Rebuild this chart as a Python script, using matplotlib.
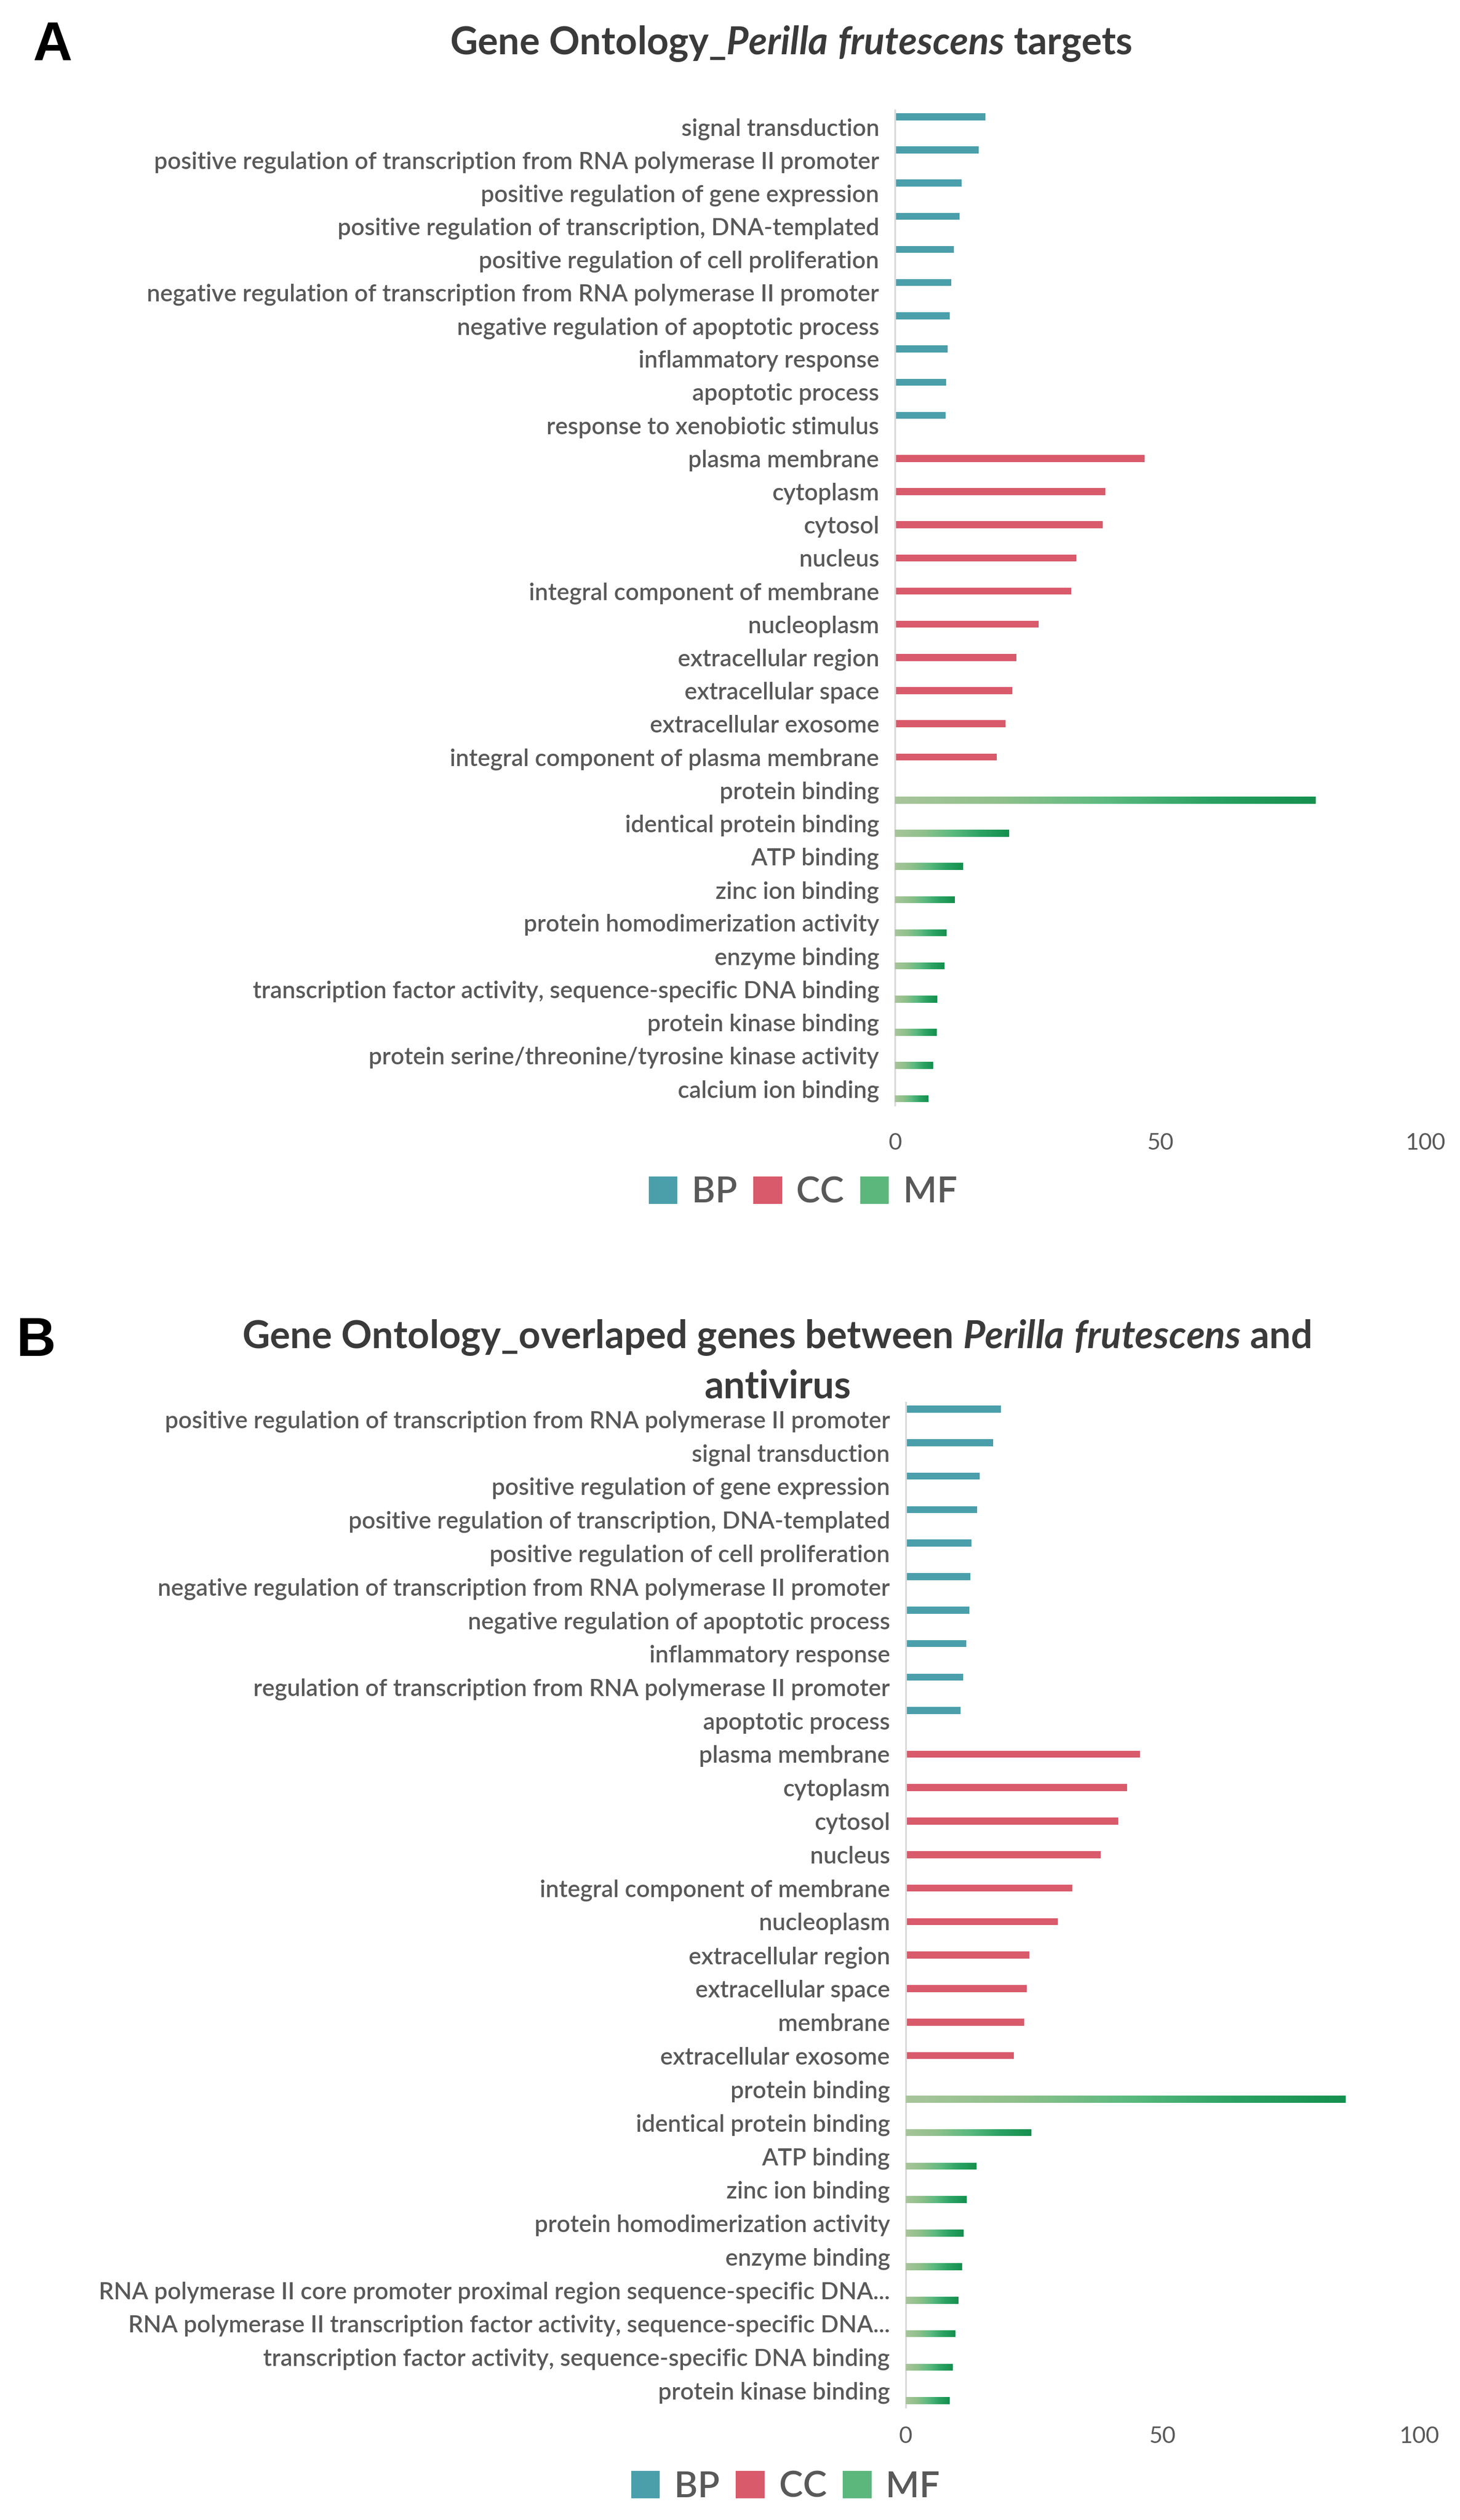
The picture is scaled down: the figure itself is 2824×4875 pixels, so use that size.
import matplotlib
matplotlib.use("Agg")
import matplotlib.pyplot as plt
import numpy as np
from matplotlib.colors import LinearSegmentedColormap
from matplotlib.patches import Patch

plt.rcParams['font.family'] = ['Lato', 'DejaVu Sans']
plt.rcParams['mathtext.fontset'] = 'custom'
plt.rcParams['mathtext.rm'] = 'Lato:bold'
plt.rcParams['mathtext.it'] = 'Lato:italic:bold'
plt.rcParams['mathtext.bfit'] = 'Lato:italic:bold'

# ---- panel A: Perilla frutescens targets ----
a_bp_terms = ["signal transduction",
              "positive regulation of transcription from RNA polymerase II promoter",
              "positive regulation of gene expression",
              "positive regulation of transcription, DNA-templated",
              "positive regulation of cell proliferation",
              "negative regulation of transcription from RNA polymerase II promoter",
              "negative regulation of apoptotic process",
              "inflammatory response",
              "apoptotic process",
              "response to xenobiotic stimulus"]
a_bp_counts = [17.0, 15.8, 12.6, 12.2, 11.1, 10.6, 10.3, 9.9, 9.6, 9.5]

a_cc_terms = ["plasma membrane", "cytoplasm", "cytosol", "nucleus",
              "integral component of membrane", "nucleoplasm",
              "extracellular region", "extracellular space",
              "extracellular exosome", "integral component of plasma membrane"]
a_cc_counts = [47.1, 39.7, 39.2, 34.2, 33.2, 27.1, 22.9, 22.1, 20.8, 19.2]

a_mf_terms = ["protein binding", "identical protein binding", "ATP binding",
              "zinc ion binding", "protein homodimerization activity",
              "enzyme binding",
              "transcription factor activity, sequence-specific DNA binding",
              "protein kinase binding",
              "protein serine/threonine/tyrosine kinase activity",
              "calcium ion binding"]
a_mf_counts = [79.3, 21.5, 12.8, 11.3, 9.7, 9.3, 7.9, 7.8, 7.2, 6.3]

# ---- panel B: overlapped genes with antivirus ----
b_bp_terms = ["positive regulation of transcription from RNA polymerase II promoter",
              "signal transduction",
              "positive regulation of gene expression",
              "positive regulation of transcription, DNA-templated",
              "positive regulation of cell proliferation",
              "negative regulation of transcription from RNA polymerase II promoter",
              "negative regulation of apoptotic process",
              "inflammatory response",
              "regulation of transcription from RNA polymerase II promoter",
              "apoptotic process"]
b_bp_counts = [18.5, 17.0, 14.4, 13.9, 12.8, 12.6, 12.4, 11.8, 11.2, 10.7]

b_cc_terms = ["plasma membrane", "cytoplasm", "cytosol", "nucleus",
              "integral component of membrane", "nucleoplasm",
              "extracellular region", "extracellular space", "membrane",
              "extracellular exosome"]
b_cc_counts = [45.6, 43.1, 41.4, 38.0, 32.4, 29.6, 24.1, 23.6, 23.1, 21.0]

b_mf_terms = ["protein binding", "identical protein binding", "ATP binding",
              "zinc ion binding", "protein homodimerization activity",
              "enzyme binding",
              "RNA polymerase II core promoter proximal region sequence-specific DNA...",
              "RNA polymerase II transcription factor activity, sequence-specific DNA...",
              "transcription factor activity, sequence-specific DNA binding",
              "protein kinase binding"]
b_mf_counts = [85.7, 24.4, 13.7, 11.8, 11.2, 10.9, 10.2, 9.6, 9.1, 8.5]

ontology = ["BP", "CC", "MF"]
colors = {"BP": "#4a9fab", "CC": "#d85a6b", "MF": "#5cb77c"}
mf_cmap = LinearSegmentedColormap.from_list(
    "mf", ["#a8c59b", "#8fc08b", "#5cba80", "#2ba263", "#15904e"])
grey = "#595959"


def draw_panel(ax, groups, xpad):
    labels = []
    # each GO class sits in its own slot of the category band
    offsets = {"BP": -0.3, "CC": 0.0, "MF": 0.3}
    start = 0
    for name, (terms, counts) in zip(ontology, groups):
        idx = np.arange(start, start + len(terms))
        labels += terms
        start += len(terms)
        bars = ax.barh(idx + offsets[name], counts, height=0.21,
                       color=colors[name], edgecolor="none", zorder=2)
        if name == "MF":
            grad = np.linspace(0, 1, 256).reshape(1, -1)
            for b in bars:
                x0, y0 = b.get_x(), b.get_y()
                w, h = b.get_width(), b.get_height()
                im = ax.imshow(grad, cmap=mf_cmap, aspect="auto",
                               extent=(x0, x0 + w, y0 + h, y0),
                               interpolation="bilinear", zorder=3)
                im.set_clip_path(b)
    n = len(labels)
    ax.set_yticks(np.arange(n))
    ax.set_yticklabels(labels, fontweight="semibold")
    ax.set_ylim(n - 0.5, -0.5)
    ax.set_xlim(0, 100)
    ax.set_xticks([0, 50, 100])
    for s in ["top", "right", "bottom"]:
        ax.spines[s].set_visible(False)
    ax.spines["left"].set_color("#d9d9d9")
    ax.spines["left"].set_linewidth(2.5)
    ax.tick_params(axis="y", length=0, pad=22, labelsize=33, labelcolor=grey)
    ax.tick_params(axis="x", length=0, pad=xpad, labelsize=32, labelcolor=grey)


fig = plt.figure(figsize=(28.24, 48.75), dpi=100)

ax_a = fig.add_axes([0.6130, 0.5614, 0.3633, 0.3949])
draw_panel(ax_a, [(a_bp_terms, a_bp_counts), (a_cc_terms, a_cc_counts),
                  (a_mf_terms, a_mf_counts)], 38)

ax_b = fig.add_axes([0.6204, 0.0447, 0.3516, 0.3988])
draw_panel(ax_b, [(b_bp_terms, b_bp_counts), (b_cc_terms, b_cc_counts),
                  (b_mf_terms, b_mf_counts)], 26)

# titles
title_kw = dict(ha="center", va="baseline", fontsize=53, fontweight="bold",
                color="#3a3a3a")
fig.text(0.5418, 0.9785,
         r"Gene Ontology_$\mathbfit{Perilla\ frutescens}$ targets", **title_kw)
fig.text(0.5319, 0.4650,
         r"Gene Ontology_overlaped genes between $\mathbfit{Perilla\ frutescens}$ and",
         **title_kw)
fig.text(0.5326, 0.4453, "antivirus", **title_kw)

# panel letters
fig.text(0.0223, 0.9758, "A", fontsize=76, fontweight="bold",
         family="Liberation Sans", va="baseline")
fig.text(0.0113, 0.4619, "B", fontsize=76, fontweight="bold",
         family="Liberation Sans", va="baseline")

# legends
handles = [Patch(facecolor=colors[k], edgecolor="none", label=k) for k in ontology]
leg_kw = dict(ncol=3, frameon=False, handlelength=0.8,
              handleheight=0.8, handletextpad=0.4, columnspacing=0.45,
              labelcolor=grey, loc="center", prop={"weight": "semibold", "size": 50})
fig.legend(handles=handles, bbox_to_anchor=(0.5500, 0.5268), **leg_kw)
fig.legend(handles=handles, bbox_to_anchor=(0.5380, 0.0131), **leg_kw)

fig.savefig("out.png", dpi=100)
